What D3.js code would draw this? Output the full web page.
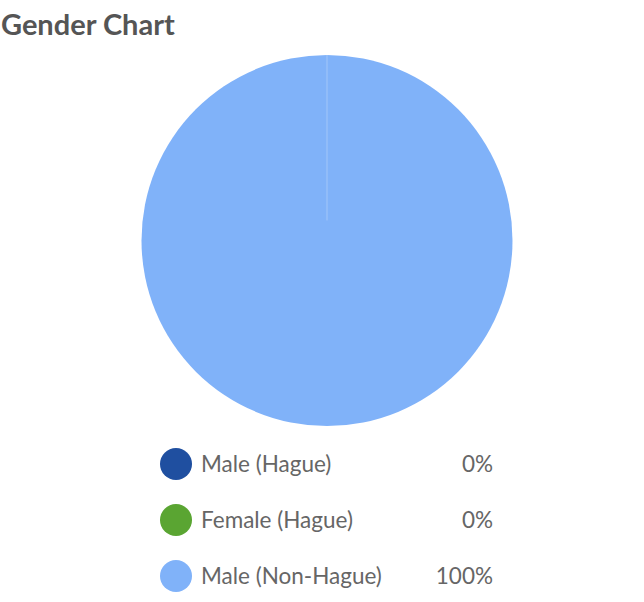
<!DOCTYPE html>
<html>
<head>
<meta charset="utf-8">
<script src="https://cdn.jsdelivr.net/npm/d3@7"></script>
<style>
  body { margin: 0; background: #fff; }
  svg { display: block; }
</style>
</head>
<body>
<script>
var w = 644;
var h = 602;

// data
var categories = ["Male (Hague)", "Female (Hague)", "Male (Non-Hague)"];
var values = [0, 0, 100];
var colours = ["#1f4fa0", "#5aa532", "#80b2f9"];

var svg = d3.select("body")
  .append("svg")
  .attr("width", w)
  .attr("height", h);

// title
svg.append("text")
  .attr("x", 1)
  .attr("y", 35)
  .style("font-family", "Lato, 'Open Sans', sans-serif")
  .style("font-weight", "700")
  .style("font-size", "29px")
  .style("fill", "#555")
  .text("Gender Chart");

// pie
var radius = 185.5;
var pie = d3.pie().sort(null).value(function(d) { return d; });
var arc = d3.arc().innerRadius(0).outerRadius(radius);
var arcs = pie(values);

var g = svg.append("g")
  .attr("transform", "translate(327,240.5)");

g.selectAll("path")
  .data(arcs)
  .enter()
  .append("path")
  .attr("d", arc)
  .style("fill", function(d, i) { return colours[i]; });

// faint slice boundaries (the empty slices collapse to a line)
g.selectAll("line.sep")
  .data(arcs.filter(function(d) { return d.endAngle - d.startAngle < 2 * Math.PI - 1e-6; }))
  .enter()
  .append("line")
  .attr("class", "sep")
  .attr("x1", 0)
  .attr("y1", -20)
  .attr("x2", function(d) { return d3.pointRadial(d.startAngle, radius)[0]; })
  .attr("y2", function(d) { return d3.pointRadial(d.startAngle, radius)[1]; })
  .style("stroke", "rgba(255,255,255,0.15)")
  .style("stroke-width", 1);

// legend
var legendY = d3.scaleBand()
  .domain(categories)
  .range([436, 604]);

var fmt = function(v) {
  return Math.round(v / d3.sum(values) * 100) + "%";
};

var items = svg.selectAll("g.legend")
  .data(categories)
  .enter()
  .append("g")
  .attr("class", "legend")
  .attr("transform", function(d) {
    return "translate(0," + (legendY(d) + legendY.bandwidth() / 2) + ")";
  });

items.append("circle")
  .attr("cx", 176)
  .attr("cy", 0)
  .attr("r", 16)
  .style("fill", function(d, i) { return colours[i]; });

items.append("text")
  .attr("x", 201)
  .attr("y", 8)
  .style("font-family", "Lato, 'Open Sans', sans-serif")
  .style("font-size", "22.5px")
  .style("fill", "#666")
  .text(function(d) { return d; });

items.append("text")
  .attr("x", 493)
  .attr("y", 8)
  .attr("text-anchor", "end")
  .style("font-family", "Lato, 'Open Sans', sans-serif")
  .style("font-size", "22.5px")
  .style("fill", "#666")
  .text(function(d, i) { return fmt(values[i]); });
</script>
</body>
</html>
